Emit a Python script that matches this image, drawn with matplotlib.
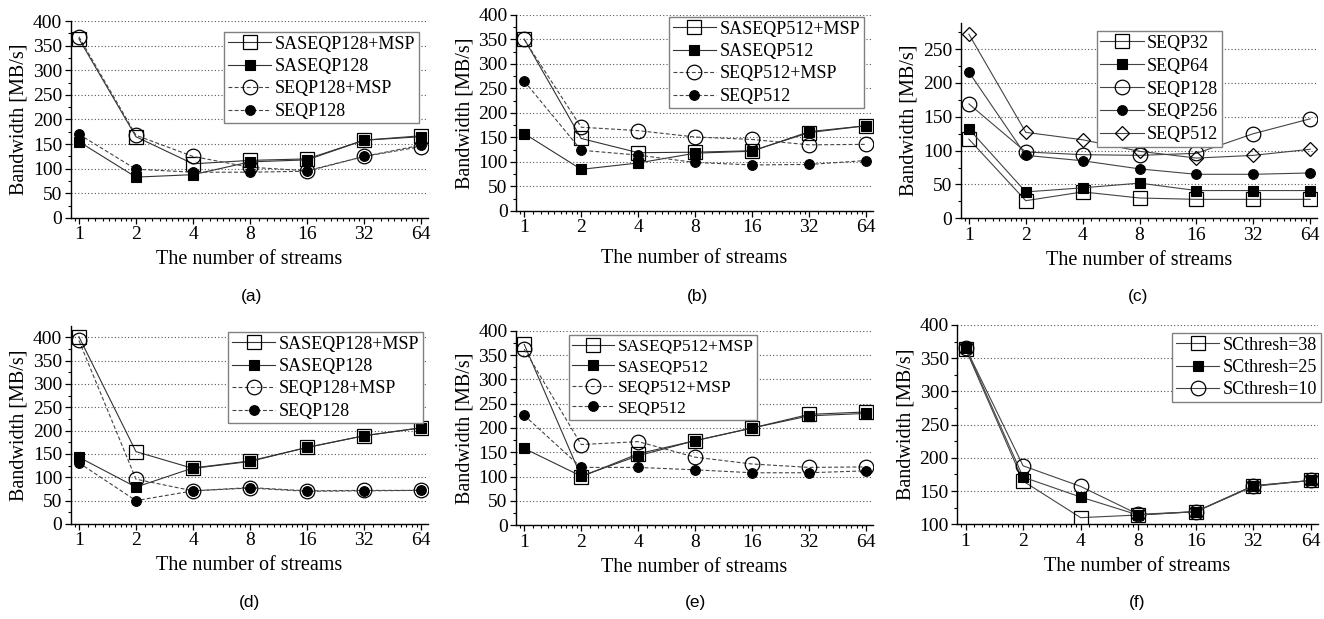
import numpy as np
import matplotlib
matplotlib.use("Agg")
import matplotlib.pyplot as plt
from matplotlib.ticker import FixedLocator, NullFormatter, AutoMinorLocator, MultipleLocator

plt.rcParams['font.family'] = ['Liberation Serif', 'DejaVu Serif']

streams = [1, 2, 4, 8, 16, 32, 64]
xticklabels = ['1', '2', '4', '8', '16', '32', '64']

# (a)
a_saseqp128_msp = [364, 165, 110, 117, 120, 158, 167]
a_saseqp128 = [155, 83, 88, 114, 118, 158, 165]
a_seqp128_msp = [368, 168, 125, 103, 96, 125, 145]
a_seqp128 = [170, 99, 93, 93, 95, 125, 148]

# (b)
b_saseqp512_msp = [351, 148, 119, 120, 123, 160, 174]
b_saseqp512 = [158, 85, 98, 118, 122, 162, 174]
b_seqp512_msp = [350, 171, 164, 151, 146, 135, 136]
b_seqp512 = [265, 124, 114, 99, 94, 95, 103]

# (c)
c_seqp32 = [117, 26, 39, 30, 28, 28, 28]
c_seqp64 = [132, 39, 45, 52, 41, 41, 41]
c_seqp128 = [169, 98, 94, 93, 96, 125, 147]
c_seqp256 = [216, 93, 85, 73, 65, 65, 67]
c_seqp512 = [272, 127, 116, 99, 89, 93, 102]

# (d)
d_saseqp128_msp = [401, 155, 119, 134, 164, 189, 206]
d_saseqp128 = [143, 79, 120, 135, 164, 189, 206]
d_seqp128_msp = [393, 96, 71, 78, 71, 72, 72]
d_seqp128 = [131, 50, 71, 77, 70, 71, 72]

# (e)
e_saseqp512_msp = [372, 100, 147, 174, 200, 228, 233]
e_saseqp512 = [158, 101, 143, 174, 200, 225, 230]
e_seqp512_msp = [362, 166, 172, 140, 126, 119, 120]
e_seqp512 = [226, 119, 119, 114, 108, 108, 112]

# (f)
f_sc38 = [364, 165, 110, 114, 119, 158, 166]
f_sc25 = [366, 171, 141, 114, 119, 157, 166]
f_sc10 = [366, 188, 157, 115, 119, 158, 166]

W, H = 1324, 619
fig = plt.figure(figsize=(W / 100, H / 100), dpi=100)

open_sq = dict(marker='s', ms=9.5, mfc='none', mec='black', mew=0.9)
fill_sq = dict(marker='s', ms=6.5, mfc='black', mec='black', mew=0.8)
open_ci = dict(marker='o', ms=10.5, mfc='none', mec='black', mew=0.9)
fill_ci = dict(marker='o', ms=7, mfc='black', mec='black', mew=0.8)
open_di = dict(marker='D', ms=7.5, mfc='none', mec='black', mew=0.9)
solid = dict(color='#333333', lw=0.8, ls='-')
dashed = dict(color='#444444', lw=0.8, ls=(0, (3.5, 2)))
c_line = dict(color='#444444', lw=0.8, ls='-')


def make_axes(left, right, top, bottom, ylim, ystep):
    ax = fig.add_axes([left / W, 1 - bottom / H, (right - left) / W, (bottom - top) / H])
    ax.set_xscale('log', base=2)
    ax.set_xlim(0.905, 69.5)
    ax.set_ylim(*ylim)
    ax.set_xticks(streams)
    ax.set_xticklabels(xticklabels)
    minors = [s * (1 + k / 9) for s in streams for k in range(1, 9)]
    minors = [m for m in minors if m < 69.5] + [0.95]
    ax.xaxis.set_minor_locator(FixedLocator(minors))
    ax.xaxis.set_minor_formatter(NullFormatter())
    ax.yaxis.set_major_locator(MultipleLocator(ystep))
    ax.yaxis.set_minor_locator(AutoMinorLocator(2))
    for s in ['top', 'right']:
        ax.spines[s].set_visible(False)
    for s in ['left', 'bottom']:
        ax.spines[s].set_linewidth(1.0)
    ax.tick_params(which='major', direction='out', length=4, width=0.9, labelsize=14, pad=2)
    ax.tick_params(which='minor', direction='out', length=2.2, width=0.8)
    ax.grid(axis='y', which='major', ls=(0, (1, 2)), color='#555555', lw=0.8)
    ax.set_axisbelow(True)
    ax.set_xlabel('The number of streams', fontsize=14.5, labelpad=5)
    ax.set_ylabel('Bandwidth [MB/s]', fontsize=14.5, labelpad=3)
    return ax


def add_legend(ax, handles, labels, right, top, spacing=0.3, fs=13):
    leg = ax.legend(handles, labels, loc='upper right',
                    bbox_to_anchor=(right / W, 1 - top / H), bbox_transform=fig.transFigure,
                    borderaxespad=0, fontsize=fs, frameon=True, fancybox=False,
                    handlelength=2.4, handletextpad=0.2, labelspacing=spacing,
                    borderpad=0.2, edgecolor='#808080', framealpha=1)
    leg.get_frame().set_linewidth(1.0)


def sublabel(x, y, text):
    fig.text(x / W, 1 - y / H, text, ha='center', va='center', fontsize=12.5,
             family=['Liberation Sans', 'DejaVu Sans'])


# panel (a)
ax = make_axes(70.7, 428, 21, 218, (0, 400), 50)
h1, = ax.plot(streams, a_saseqp128_msp, **solid, **open_sq)
h3, = ax.plot(streams, a_seqp128_msp, **dashed, **open_ci)
h2, = ax.plot(streams, a_saseqp128, **solid, **fill_sq)
h4, = ax.plot(streams, a_seqp128, **dashed, **fill_ci)
add_legend(ax, [h1, h2, h3, h4], ['SASEQP128+MSP', 'SASEQP128', 'SEQP128+MSP', 'SEQP128'], 419, 32)
sublabel(252, 297, '(a)')

# panel (b)
ax = make_axes(516, 873, 15, 211, (0, 400), 50)
h1, = ax.plot(streams, b_saseqp512_msp, **solid, **open_sq)
h3, = ax.plot(streams, b_seqp512_msp, **dashed, **open_ci)
h2, = ax.plot(streams, b_saseqp512, **solid, **fill_sq)
h4, = ax.plot(streams, b_seqp512, **dashed, **fill_ci)
ax.xaxis.labelpad = 9
add_legend(ax, [h1, h2, h3, h4], ['SASEQP512+MSP', 'SASEQP512', 'SEQP512+MSP', 'SEQP512'], 864, 17)
sublabel(697, 297, '(b)')

# panel (c)
ax = make_axes(960.7, 1317, 22.7, 218.3, (0, 289), 50)
h1, = ax.plot(streams, c_seqp32, **c_line, **open_sq)
h3, = ax.plot(streams, c_seqp128, **c_line, **open_ci)
h5, = ax.plot(streams, c_seqp512, **c_line, **open_di)
h2, = ax.plot(streams, c_seqp64, **c_line, **fill_sq)
h4, = ax.plot(streams, c_seqp256, **c_line, **fill_ci)
add_legend(ax, [h1, h2, h3, h4, h5], ['SEQP32', 'SEQP64', 'SEQP128', 'SEQP256', 'SEQP512'],
           1222, 31, spacing=0.33)
sublabel(1138, 297, '(c)')

# panel (d)
ax = make_axes(70.7, 428, 326, 524, (0, 424), 50)
h1, = ax.plot(streams, d_saseqp128_msp, **solid, **open_sq)
h3, = ax.plot(streams, d_seqp128_msp, **dashed, **open_ci)
h2, = ax.plot(streams, d_saseqp128, **solid, **fill_sq)
h4, = ax.plot(streams, d_seqp128, **dashed, **fill_ci)
add_legend(ax, [h1, h2, h3, h4], ['SASEQP128+MSP', 'SASEQP128', 'SEQP128+MSP', 'SEQP128'], 423, 332)
sublabel(250, 602, '(d)')

# panel (e)
ax = make_axes(516, 873, 330.7, 525.3, (0, 400), 50)
h1, = ax.plot(streams, e_saseqp512_msp, **solid, **open_sq)
h3, = ax.plot(streams, e_seqp512_msp, **dashed, **open_ci)
h2, = ax.plot(streams, e_saseqp512, **solid, **fill_sq)
h4, = ax.plot(streams, e_seqp512, **dashed, **fill_ci)
add_legend(ax, [h1, h2, h3, h4], ['SASEQP512+MSP', 'SASEQP512', 'SEQP512+MSP', 'SEQP512'], 757, 335,
           spacing=0.25, fs=12.5)
sublabel(695, 602, '(e)')

# panel (f)
ax = make_axes(957.3, 1317.7, 325, 524.3, (100, 400), 50)
h1, = ax.plot(streams, f_sc38, **c_line, **open_sq)
h3, = ax.plot(streams, f_sc10, **c_line, **open_ci)
h2, = ax.plot(streams, f_sc25, **c_line, **fill_sq)
add_legend(ax, [h1, h2, h3], ['SCthresh=38', 'SCthresh=25', 'SCthresh=10'], 1321, 333)
sublabel(1137, 602, '(f)')

fig.savefig('out.png', dpi=100)
